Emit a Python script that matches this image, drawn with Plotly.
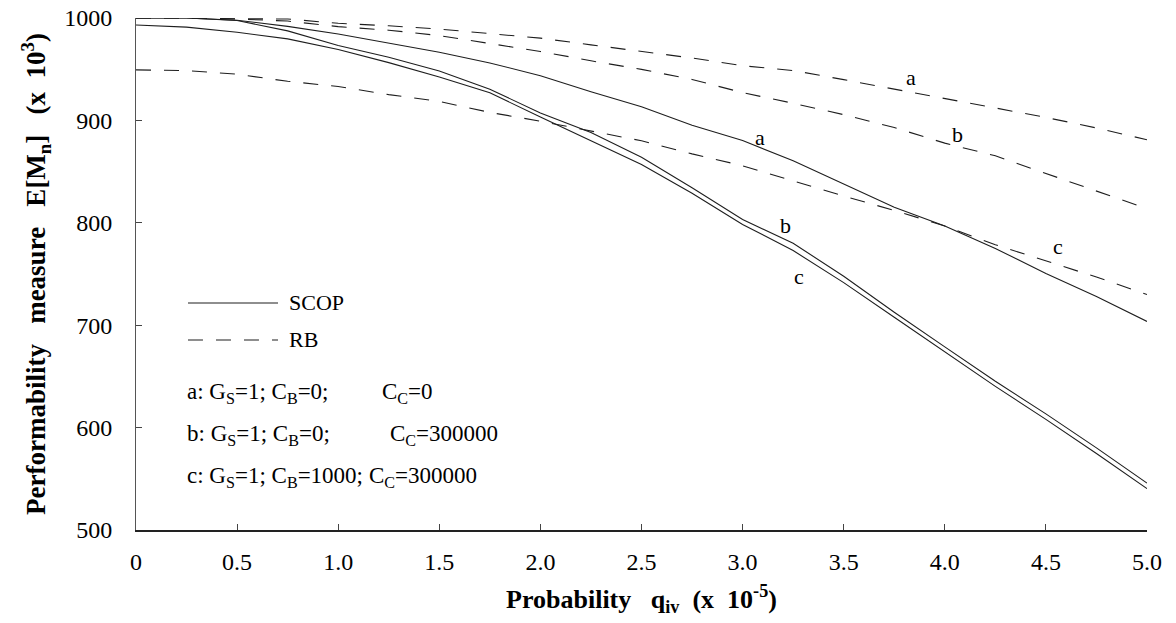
import plotly.graph_objects as go

# ---- data ----
q = [0.0, 0.25, 0.5, 0.75, 1.0, 1.25, 1.5, 1.75, 2.0, 2.25, 2.5,
     2.75, 3.0, 3.25, 3.5, 3.75, 4.0, 4.25, 4.5, 4.75, 5.0]

scop_a = [1000, 1000, 997.8, 991.8, 984.3, 975.4, 966.5, 956.1, 943.6, 928.0, 913.3,
          895.3, 880.3, 860.5, 838.1, 815.1, 796.9, 775.0, 750.4, 728.0, 703.7]
scop_b = [1000, 1000, 997.5, 987.4, 973.1, 961.7, 948.2, 930.5, 907.2, 888.2, 864.0,
          834.2, 803.3, 780.0, 747.8, 712.7, 678.8, 645.2, 613.4, 580.2, 545.8]
scop_c = [993.2, 991.1, 986.1, 979.6, 969.2, 956.4, 942.4, 926.9, 903.4, 880.5, 857.0,
          828.8, 798.4, 772.9, 741.6, 707.8, 674.1, 640.3, 608.0, 574.7, 540.4]

rb_a = [1000, 1000, 999.2, 999.0, 994.8, 992.4, 989.2, 985.1, 980.3, 973.8, 967.3,
        960.9, 953.4, 948.7, 939.8, 930.5, 921.6, 911.6, 902.9, 892.6, 881.1]
rb_b = [1000, 1000, 999.0, 997.0, 991.6, 988.1, 982.8, 975.1, 967.3, 958.2, 949.8,
        940.0, 927.1, 916.7, 905.6, 893.0, 877.8, 865.4, 848.2, 831.1, 813.8]
rb_c = [949.3, 948.7, 945.1, 938.2, 933.1, 925.2, 918.5, 907.8, 899.2, 889.8, 880.1,
        867.3, 855.7, 840.9, 826.1, 812.1, 796.9, 778.6, 762.7, 747.0, 730.0]

x_tickvals = [0, 0.5, 1.0, 1.5, 2.0, 2.5, 3.0, 3.5, 4.0, 4.5, 5.0]
x_ticktext = ["0", "0.5", "1.0", "1.5", "2.0", "2.5", "3.0", "3.5", "4.0", "4.5", "5.0"]
y_tickvals = [500, 600, 700, 800, 900, 1000]

curve_letters = ["a", "b", "c", "a", "b", "c"]
legend_names = ["SCOP", "RB"]
case_lines = [
    ("a: G<sub>S</sub>=1; C<sub>B</sub>=0;", "C<sub>C</sub>=0"),
    ("b: G<sub>S</sub>=1; C<sub>B</sub>=0;", "C<sub>C</sub>=300000"),
    ("c: G<sub>S</sub>=1; C<sub>B</sub>=1000;", "C<sub>C</sub>=300000"),
]

# ---- styling / layout ----
SERIF = "Liberation Serif, Times New Roman, serif"
LINE_COLOR = "#1e1e1e"
DASH = "15px,13px"
NB = "\u00a0"

fig = go.Figure()

series = [
    ("SCOP a", scop_a, "solid"),
    ("SCOP b", scop_b, "solid"),
    ("SCOP c", scop_c, "solid"),
    ("RB a", rb_a, DASH),
    ("RB b", rb_b, DASH),
    ("RB c", rb_c, DASH),
]
for name, ys, dash in series:
    fig.add_trace(go.Scatter(
        x=q, y=ys, mode="lines", name=name,
        line=dict(color=LINE_COLOR, width=1.1, dash=dash),
        cliponaxis=False, showlegend=False,
    ))

annotations = []
# curve letter labels (data coordinates)
label_pos = [(3.086, 883), (3.21, 797), (3.279, 748),
             (3.833, 941.6), (4.065, 886.4), (4.56, 777)]
for letter, (lx, ly) in zip(curve_letters, label_pos):
    annotations.append(dict(x=lx, y=ly, xref="x", yref="y", text=letter,
                            showarrow=False, font=dict(family=SERIF, size=22, color="black"),
                            xanchor="center", yanchor="middle"))

# legend (drawn manually to match long key lines)
shapes = [
    dict(type="line", xref="paper", yref="paper", x0=0.0514, x1=0.1405, y0=0.4434, y1=0.4434,
         line=dict(color=LINE_COLOR, width=1.1)),
    dict(type="line", xref="paper", yref="paper", x0=0.0514, x1=0.1405, y0=0.3711, y1=0.3711,
         line=dict(color=LINE_COLOR, width=1.1, dash=DASH)),
]
for name, yp in zip(legend_names, [0.4434, 0.3711]):
    annotations.append(dict(x=0.1494, y=yp, xref="paper", yref="paper", text=name,
                            showarrow=False, font=dict(family=SERIF, size=22, color="black"),
                            xanchor="left", yanchor="middle"))

# case descriptions
case_y = [0.2676, 0.1855, 0.1035]
cc_x = [0.2413, 0.2492, 0.2284]
for (left, right), yp, cx in zip(case_lines, case_y, cc_x):
    annotations.append(dict(x=0.0485, y=yp, xref="paper", yref="paper", text=left,
                            showarrow=False, font=dict(family=SERIF, size=23, color="black"),
                            xanchor="left", yanchor="middle"))
    annotations.append(dict(x=cx, y=yp, xref="paper", yref="paper", text=right,
                            showarrow=False, font=dict(family=SERIF, size=23, color="black"),
                            xanchor="left", yanchor="middle"))

fig.update_layout(
    width=1176, height=623,
    margin=dict(l=136, r=29, t=18, b=93, autoexpand=False),
    paper_bgcolor="white", plot_bgcolor="white",
    font=dict(family=SERIF, color="black"),
    annotations=annotations, shapes=shapes,
    showlegend=False,
)

x_title = "Probability" + NB * 3 + "q<sub>iv</sub>" + NB * 2 + "(x" + NB * 2 + "10<sup>-5</sup>)"
y_title = ("Performability" + NB * 3 + "measure" + NB * 3 + "E[M<sub>n</sub>]" + NB * 3
           + "(x" + NB * 2 + "10<sup>3</sup>)")

fig.update_xaxes(
    range=[0, 5], tickvals=x_tickvals, ticktext=x_ticktext,
    showline=True, linecolor="#222", linewidth=1.5, mirror=False,
    ticks="inside", ticklen=6, tickcolor="#444", tickwidth=1,
    showgrid=False, zeroline=False,
    tickfont=dict(family=SERIF, size=24, color="black"),
    ticklabelstandoff=9,
    title=dict(text=x_title,
               font=dict(family=SERIF, size=26, color="black", weight="bold"), standoff=16),
)
fig.update_yaxes(
    range=[500, 1000], tickvals=y_tickvals,
    showline=True, linecolor="#555", linewidth=1, mirror=False,
    ticks="inside", ticklen=6, tickcolor="#444", tickwidth=1,
    showgrid=False, zeroline=False,
    tickfont=dict(family=SERIF, size=24, color="black"),
    ticklabelstandoff=18,
    title=dict(text=y_title,
               font=dict(family=SERIF, size=27, color="black", weight="bold"), standoff=10),
)

fig.write_html("out.html")
